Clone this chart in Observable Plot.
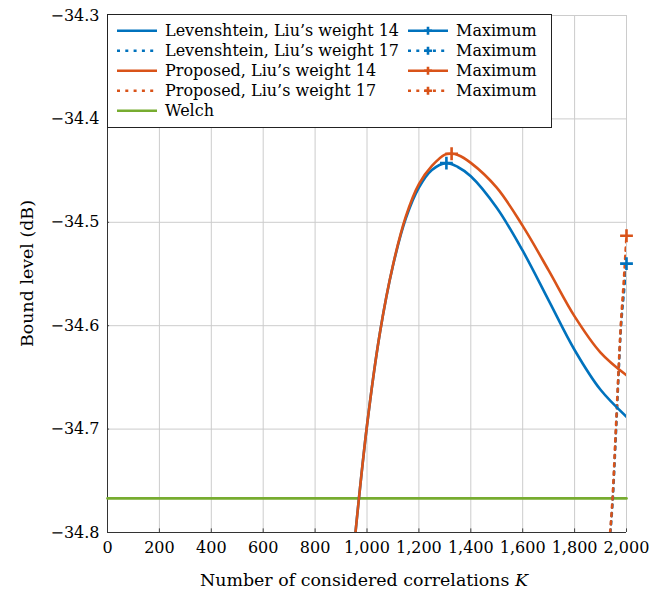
<!DOCTYPE html>
<html><head><meta charset="utf-8">
<script src="https://cdn.jsdelivr.net/npm/d3@7"></script>
<script src="https://cdn.jsdelivr.net/npm/@observablehq/plot@0.6"></script>
<style>body{margin:0;background:#fff} svg{display:block}</style>
</head><body><div id="chart"></div>
<script>
// ---- data ----
const xTicks = [0, 200, 400, 600, 800, 1000, 1200, 1400, 1600, 1800, 2000];
const yTicks = [-34.8, -34.7, -34.6, -34.5, -34.4, -34.3];

const levK14 = [950, 1000, 1050, 1100, 1150, 1200, 1250, 1306, 1350, 1400, 1500, 1600, 1700, 1800, 1900, 2000];
const levY14 = [-34.814, -34.6965, -34.6065, -34.542, -34.496, -34.4665, -34.4495, -34.4428, -34.4465, -34.4555, -34.486, -34.5275, -34.5755, -34.6235, -34.662, -34.688];

const propK14 = [950, 1000, 1050, 1100, 1150, 1200, 1250, 1300, 1326, 1350, 1400, 1500, 1600, 1700, 1800, 1900, 2000];
const propY14 = [-34.814, -34.6965, -34.6065, -34.5415, -34.494, -34.463, -34.4455, -34.4345, -34.4337, -34.4349, -34.4425, -34.4665, -34.5035, -34.5465, -34.591, -34.626, -34.648];

const levK17 = [1938, 1947, 1960, 1979, 1990, 2000];
const levY17 = [-34.8, -34.768, -34.7, -34.6, -34.568, -34.54];

const propK17 = [1937, 1946, 1959, 1978, 1990, 2000];
const propY17 = [-34.8, -34.768, -34.7, -34.6, -34.555, -34.513];

const welchK = [0, 2000];
const welchY = [-34.767, -34.767];

const maxK = [1306, 2000, 1326, 2000];
const maxY = [-34.4428, -34.540, -34.4337, -34.513];
const maxSeries = ["lev14", "lev17", "prop14", "prop17"];

const legendLabels = ["Levenshtein, Liu\u2019s weight 14", "Levenshtein, Liu\u2019s weight 17", "Proposed, Liu\u2019s weight 14", "Proposed, Liu\u2019s weight 17", "Welch"];
const maxLabel = "Maximum";
const xLabel = "Number of considered correlations ";
const xLabelVar = "K";
const yLabel = "Bound level (dB)";

const BLUE = "#0072BD", ORANGE = "#D95319", GREEN = "#77AC30";
const DOT = "3 5.3";

const rows = (ks, ys) => ks.map((k, i) => ({k, v: ys[i]}));
const maxRows = maxK.map((k, i) => ({k, v: maxY[i], s: maxSeries[i]}));
const colorOf = {lev14: BLUE, lev17: BLUE, prop14: ORANGE, prop17: ORANGE};

const font = "DejaVu Serif";
const chart = Plot.plot({
  width: 650, height: 592,
  marginLeft: 107, marginRight: 24, marginTop: 15, marginBottom: 60,
  x: {domain: [0, 2000]},
  y: {domain: [-34.8, -34.3]},
  style: {fontFamily: font, fontSize: "16px", background: "white", color: "black", overflow: "visible"},
  marks: [
    Plot.ruleX(xTicks, {stroke: "#cccccc", strokeWidth: 1}),
    Plot.ruleY(yTicks, {stroke: "#cccccc", strokeWidth: 1}),
    Plot.ruleX(xTicks, {y1: -34.8, y2: -34.7965, stroke: "#444"}),
    Plot.ruleY(yTicks, {x1: 0, x2: 8, stroke: "#444"}),
    Plot.ruleY([-34.8], {stroke: "#333", strokeWidth: 1}),
    Plot.ruleX([0], {stroke: "#333", strokeWidth: 1}),
    Plot.axisX({ticks: xTicks, tickSize: 0, tickPadding: 9, tickFormat: d3.format(","), label: null}),
    Plot.axisY({ticks: yTicks, tickSize: 0, tickPadding: 8, tickFormat: d3.format(".1f"), label: null}),
    Plot.line(rows(welchK, welchY), {x: "k", y: "v", stroke: GREEN, strokeWidth: 2.6}),
    Plot.line(rows(levK17, levY17), {x: "k", y: "v", stroke: BLUE, strokeWidth: 2.6, strokeDasharray: DOT, curve: "catmull-rom", clip: true}),
    Plot.line(rows(propK17, propY17), {x: "k", y: "v", stroke: ORANGE, strokeWidth: 2.6, strokeDasharray: DOT, curve: "catmull-rom", clip: true}),
    Plot.line(rows(levK14, levY14), {x: "k", y: "v", stroke: BLUE, strokeWidth: 2.6, curve: "catmull-rom", clip: true}),
    Plot.line(rows(propK14, propY14), {x: "k", y: "v", stroke: ORANGE, strokeWidth: 2.6, curve: "catmull-rom", clip: true}),
    Plot.dot(maxRows, {x: "k", y: "v", symbol: "plus", r: 4.2, stroke: d => colorOf[d.s], strokeWidth: 2.6})
  ]
});

const svg = d3.select(chart);
// axis titles
svg.append("text")
  .attr("x", 364).attr("y", 585.5)
  .attr("text-anchor", "middle")
  .attr("font-family", font).attr("font-size", 17.4).attr("fill", "black")
  .call(t => { t.append("tspan").text(xLabel); t.append("tspan").attr("font-style", "italic").text(xLabelVar); });
svg.append("text")
  .attr("transform", "translate(33,273.5) rotate(-90)")
  .attr("text-anchor", "middle")
  .attr("font-family", font).attr("font-size", 17.4).attr("fill", "black")
  .text(yLabel);

// legend
const lg = svg.append("g").attr("font-family", font).attr("font-size", 16).attr("fill", "black").attr("text-anchor", "start");
lg.append("rect").attr("x", 107.5).attr("y", 14.5).attr("width", 444).attr("height", 113)
  .attr("fill", "white").attr("stroke", "#222").attr("stroke-width", 1);
const legItems = [
  {c: BLUE, dash: null}, {c: BLUE, dash: DOT}, {c: ORANGE, dash: null}, {c: ORANGE, dash: DOT}, {c: GREEN, dash: null}
];
legItems.forEach((it, i) => {
  const y = 30.7 + 20 * i;
  lg.append("line").attr("x1", 117).attr("x2", 157).attr("y1", y).attr("y2", y)
    .attr("stroke", it.c).attr("stroke-width", 2.6).attr("stroke-dasharray", it.dash);
  lg.append("text").attr("x", 165).attr("y", y).attr("dy", "0.35em").text(legendLabels[i]);
  if (i < 4) {
    lg.append("line").attr("x1", 408).attr("x2", 448).attr("y1", y).attr("y2", y)
      .attr("stroke", it.c).attr("stroke-width", 2.6).attr("stroke-dasharray", it.dash);
    lg.append("path").attr("d", "M424," + y + "h8M428," + (y - 4) + "v8").attr("stroke", it.c).attr("stroke-width", 2.6);
    lg.append("text").attr("x", 456).attr("y", y).attr("dy", "0.35em").text(maxLabel);
  }
});

document.getElementById("chart").append(chart);
</script>
</body></html>
